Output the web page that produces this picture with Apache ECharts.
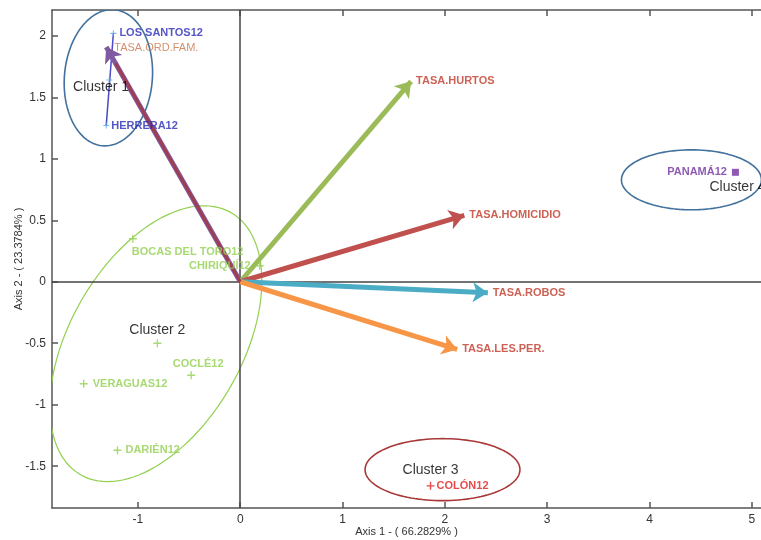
<!DOCTYPE html>
<html>
<head>
<meta charset="utf-8">
<script src="https://cdn.jsdelivr.net/npm/echarts@6/dist/echarts.min.js"></script>
<style>html,body{margin:0;padding:0;background:#fff}#c{width:761px;height:540px}</style>
</head>
<body>
<div id="c"></div>
<script>
// ---- data ----
const xTicks = [-1, 0, 1, 2, 3, 4, 5];
const yTicks = [-1.5, -1, -0.5, 0, 0.5, 1, 1.5, 2];
const xAxisName = 'Axis 1 - ( 66.2829% )';
const yAxisName = 'Axis 2 - ( 23.3784% )';

const arrowNames = ['TASA.ORD.FAM.', 'TASA.HURTOS', 'TASA.HOMICIDIO', 'TASA.ROBOS', 'TASA.LES.PER.'];
const arrowX = [-1.31, 1.67, 2.19, 2.42, 2.12];
const arrowY = [1.91, 1.63, 0.54, -0.09, -0.55];

const pointNames = ['LOS SANTOS12', 'HERRERA12', 'BOCAS DEL TORO12', 'CHIRIQUÍ12', 'COCLÉ12', 'VERAGUAS12', 'DARIÉN12', 'COLÓN12', 'PANAMÁ12'];
const pointX = [-1.24, -1.31, -1.05, 0.19, -0.48, -1.53, -1.20, 1.86, 4.84];
const pointY = [2.02, 1.27, 0.35, 0.13, -0.76, -0.83, -1.37, -1.66, 0.89];
const pointCluster = [1, 1, 2, 2, 2, 2, 2, 3, 4];

const centroidX = [-1.28, -0.81];
const centroidY = [1.64, -0.50];
const centroidCluster = [1, 2];

const clusterNames = ['Cluster 1', 'Cluster 2', 'Cluster 3', 'Cluster 4'];
const clusterLabelX = [-1.36, -0.81, 1.86, 4.86];
const clusterLabelY = [1.58, -0.39, -1.53, 0.77];
// ellipse: centre x, centre y, first semi-axis (dx,dy), second semi-axis (dx,dy) in data units
const ellipseCx = [-1.289, -0.825, 1.977, 4.41];
const ellipseCy = [1.659, -0.504, -1.528, 0.829];
const ellipseAx = [0.059, 0.735, 0.757, 0.684];
const ellipseAy = [0.553, 1.066, 0, 0];
const ellipseBx = [0.428, 0.730, 0, 0];
const ellipseBy = [-0.032, -0.349, 0.252, 0.244];

// ---- styles ----
const FONT = 'Liberation Sans, Arial, sans-serif';
const arrowColors = ['#7f5aa0', '#9bbb59', '#c0504d', '#4bacc6', '#f79646'];
const clusterPointColors = {1: '#5aa8e6', 2: '#92d050', 3: '#e21c1c', 4: '#7030a0'};
const clusterLabelColors = {1: '#2a2ab8', 2: '#92d050', 3: '#e21c1c', 4: '#7030a0'};
const ellipseColors = ['#41719c', '#92d050', '#a83838', '#41719c'];
const PLUS = 'path://M3.3,0H4.7V3.3H8V4.7H4.7V8H3.3V4.7H0V3.3H3.3Z';

const pointLabelLayout = {
  'LOS SANTOS12': {position: 'right', distance: 3, offset: [0, 0]},
  'HERRERA12': {position: 'right', distance: 2, offset: [0, 0]},
  'BOCAS DEL TORO12': {position: 'right', distance: 0, offset: [-5, 13]},
  'CHIRIQUÍ12': {position: 'left', distance: 5, offset: [0, 0]},
  'COCLÉ12': {position: 'top', distance: 2, offset: [7, 0]},
  'VERAGUAS12': {position: 'right', distance: 5, offset: [0, 0]},
  'DARIÉN12': {position: 'right', distance: 4, offset: [0, 0]},
  'COLÓN12': {position: 'right', distance: 2, offset: [0, 0]},
  'PANAMÁ12': {position: 'left', distance: 5, offset: [0, 0]}
};

const chart = echarts.init(document.getElementById('c'), null, {renderer: 'canvas'});

const ellipseData = ellipseCx.map((cx, i) => [cx, ellipseCy[i], ellipseAx[i], ellipseAy[i], ellipseBx[i], ellipseBy[i], i]);

const pointData = pointNames.map((n, i) => {
  const c = pointCluster[i];
  const lay = pointLabelLayout[n];
  return {
    name: n,
    value: [pointX[i], pointY[i]],
    symbol: c === 4 ? 'rect' : PLUS,
    symbolSize: c === 4 ? 7 : (c === 1 ? 6 : 8),
    itemStyle: {color: clusterPointColors[c]},
    label: {
      show: true, formatter: n, position: lay.position, distance: lay.distance, offset: lay.offset,
      color: clusterLabelColors[c], fontWeight: 'bold', fontSize: 11, fontFamily: FONT
    }
  };
});

const centroidData = centroidX.map((x, i) => ({
  value: [x, centroidY[i]],
  symbol: PLUS,
  symbolSize: centroidCluster[i] === 1 ? 6 : 8,
  itemStyle: {color: clusterPointColors[centroidCluster[i]]}
}));

const arrowLines = arrowNames.map((n, i) => ({
  coords: [[0, 0], [arrowX[i], arrowY[i]]],
  lineStyle: {color: arrowColors[i]}
}));
// dark red core on the first (purple-edged) arrow shaft
const ordFamCore = [{coords: [[0, 0], [arrowX[0] * 0.93, arrowY[0] * 0.93]]}];

const arrowLabelData = arrowNames.map((n, i) => ({
  value: [arrowX[i], arrowY[i]],
  label: {
    show: true, formatter: n, position: 'right', distance: i === 0 ? 8 : 5,
    offset: i === 0 ? [0, 1] : [0, 0],
    color: i === 0 ? '#c8744a' : '#c0392b', fontWeight: i === 0 ? 'normal' : 'bold',
    fontSize: 11, fontFamily: FONT
  }
}));

const clusterLabelData = clusterNames.map((n, i) => ({
  value: [clusterLabelX[i], clusterLabelY[i]],
  label: {show: true, formatter: n, position: 'inside', color: '#000', fontSize: 14, fontFamily: FONT}
}));

// cluster 1 link line (members of cluster 1)
const c1Line = pointNames.map((n, i) => pointCluster[i] === 1 ? [pointX[i], pointY[i]] : null).filter(Boolean);

const axisCommon = {
  type: 'value',
  axisLine: {show: true, onZero: false, lineStyle: {color: '#555', width: 1.5}},
  splitLine: {show: false},
  axisTick: {show: true, inside: true, length: 6, lineStyle: {color: '#555', width: 1.5}}
};

const option = {
  animation: false,
  backgroundColor: '#fff',
  grid: {left: 52, right: 0, top: 10, bottom: 32, containLabel: false, outerBoundsMode: 'none'},
  xAxis: [
    Object.assign({}, axisCommon, {
      min: -1.84, max: 5.09, position: 'bottom',
      axisTick: Object.assign({}, axisCommon.axisTick, {customValues: xTicks}),
      axisLabel: {customValues: xTicks, color: '#333', fontSize: 12, fontFamily: FONT, margin: 6},
      name: xAxisName, nameLocation: 'middle', nameGap: 18, nameMoveOverlap: false,
      nameTextStyle: {color: '#333', fontSize: 11, fontFamily: FONT}
    }),
    Object.assign({}, axisCommon, {
      min: -1.84, max: 5.09, position: 'top',
      axisTick: Object.assign({}, axisCommon.axisTick, {customValues: xTicks}),
      axisLabel: {show: false}
    })
  ],
  yAxis: [
    Object.assign({}, axisCommon, {
      min: -1.84, max: 2.21, position: 'left',
      axisTick: Object.assign({}, axisCommon.axisTick, {customValues: yTicks}),
      axisLabel: {customValues: yTicks, color: '#333', fontSize: 12, fontFamily: FONT, margin: 6},
      name: yAxisName, nameLocation: 'middle', nameGap: 28, nameRotate: 90, nameMoveOverlap: false,
      nameTextStyle: {color: '#333', fontSize: 11, fontFamily: FONT}
    })
  ],
  series: [
    {
      type: 'custom',
      clip: true,
      silent: true,
      z: 1,
      data: ellipseData,
      encode: {x: 0, y: 1},
      renderItem: function (params, api) {
        const cx = api.value(0), cy = api.value(1), ax = api.value(2), ay = api.value(3),
              bx = api.value(4), by = api.value(5), idx = api.value(6);
        const pts = [];
        for (let k = 0; k <= 120; k++) {
          const t = k / 120 * Math.PI * 2;
          pts.push(api.coord([cx + ax * Math.cos(t) + bx * Math.sin(t), cy + ay * Math.cos(t) + by * Math.sin(t)]));
        }
        const cs = params.coordSys;
        return {
          type: 'polyline',
          shape: {points: pts},
          clipPath: {type: 'rect', shape: {x: cs.x, y: cs.y, width: cs.width, height: cs.height}},
          style: {fill: null, stroke: ellipseColors[idx], lineWidth: idx === 1 ? 1.2 : 1.6}
        };
      }
    },
    {
      type: 'line',
      data: c1Line,
      symbol: 'none',
      z: 2,
      silent: true,
      lineStyle: {color: '#4b4bc8', width: 1.5},
      markLine: {
        silent: true, symbol: 'none', label: {show: false},
        lineStyle: {color: '#444', width: 1.5, type: 'solid'},
        data: [{xAxis: 0}, {yAxis: 0}]
      }
    },
    {
      type: 'lines',
      coordinateSystem: 'cartesian2d',
      z: 5,
      silent: true,
      symbol: ['none', 'arrow'],
      symbolSize: [0, 15],
      lineStyle: {width: 5, opacity: 1},
      data: arrowLines
    },
    {
      type: 'lines',
      coordinateSystem: 'cartesian2d',
      z: 5,
      silent: true,
      symbol: 'none',
      lineStyle: {width: 3, opacity: 1, color: '#9e3e50'},
      data: ordFamCore
    },
    {
      type: 'scatter',
      z: 6,
      silent: true,
      data: pointData
    },
    {
      type: 'scatter',
      z: 6,
      silent: true,
      data: centroidData
    },
    {
      type: 'scatter',
      z: 7,
      silent: true,
      symbolSize: 0,
      data: arrowLabelData
    },
    {
      type: 'scatter',
      z: 7,
      silent: true,
      symbolSize: 0,
      data: clusterLabelData
    }
  ]
};
chart.setOption(option);
</script>
</body>
</html>
